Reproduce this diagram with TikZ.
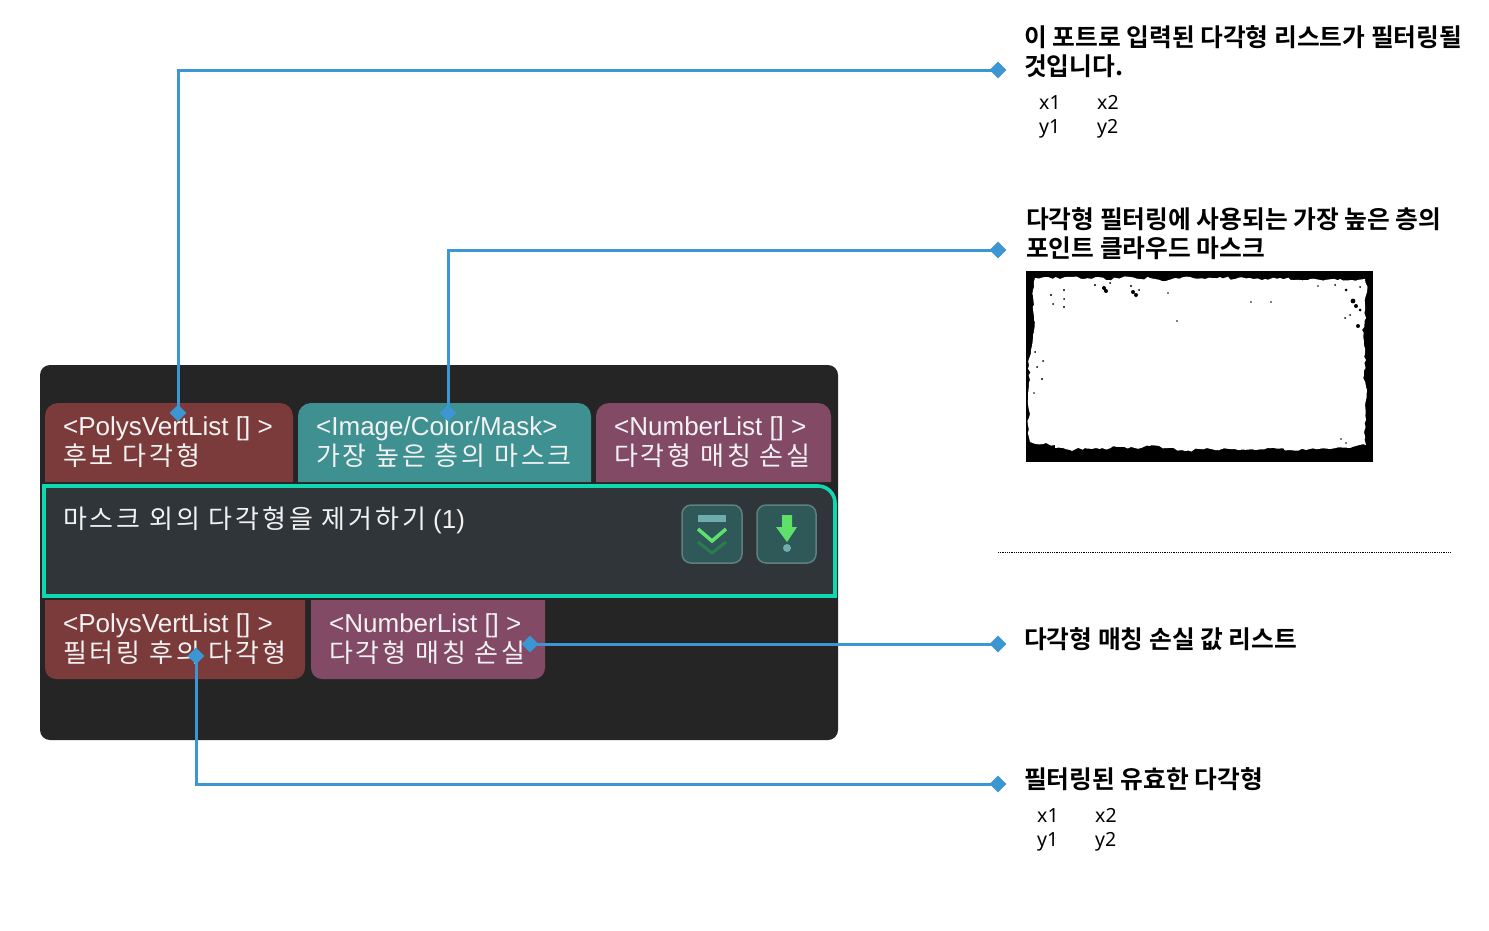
\documentclass[tikz,border=0pt]{standalone}
\usepackage{xcolor}
\usepackage{fontspec}
\setmainfont{Liberation Sans}
\newfontfamily\krtab[LetterSpace=11]{Noto Sans CJK KR}
\newfontfamily\krbold{Noto Sans CJK KR Bold}
\newfontfamily\smallfont{Noto Sans}
\usetikzlibrary{shapes.geometric, decorations.pathmorphing}
\definecolor{panel}{HTML}{252525}
\definecolor{nodo}{HTML}{30353A}
\definecolor{borde}{HTML}{10D8B0}
\definecolor{rojo}{HTML}{7B3B3B}
\definecolor{verdeazul}{HTML}{3F9090}
\definecolor{morado}{HTML}{834A66}
\definecolor{enlace}{HTML}{3C96D2}
\definecolor{boton}{HTML}{2F5858}
\definecolor{botonborde}{HTML}{5F7F7F}
\definecolor{verde}{HTML}{5FE06A}
\definecolor{verdeoscuro}{HTML}{2F7A50}
\tikzset{
  tablabel/.style={anchor=north west, inner sep=0pt, align=left, text=white!90!gray, font=\fontsize{26}{30}\selectfont},
  heading/.style={anchor=north west, inner sep=0pt, align=left, text=black, font=\fontsize{24.75}{29}\selectfont\krbold},
  coordlabel/.style={anchor=base west, inner sep=0pt, text=black, font=\fontsize{19.5}{22}\selectfont\smallfont},
  marker/.style={diamond, fill=enlace, inner sep=0pt, minimum width=17pt, minimum height=17pt},
  enlaceline/.style={draw=enlace, line width=3pt},
  botonbox/.style={draw=botonborde, fill=boton, line width=1.5pt, rounded corners=9pt}
}
\begin{document}
\begin{tikzpicture}[x=1pt, y=-1pt]
  \useasboundingbox (0,0) rectangle (1489,930);
  \fill[white] (0,0) rectangle (1489,930);
  \fill[panel, rounded corners=10pt] (40,365) rectangle (838,740);

  \fill[rojo] (45,482) [rounded corners=13pt] -- (45,403) -- (293,403) [sharp corners] -- (293,482) -- cycle;
  \fill[verdeazul] (298,482) [rounded corners=13pt] -- (298,403) -- (591,403) [sharp corners] -- (591,482) -- cycle;
  \fill[morado] (596,482) [rounded corners=13pt] -- (596,403) -- (831,403) [sharp corners] -- (831,482) -- cycle;
  \fill[rojo] (45,600) [sharp corners] -- (305,600) [rounded corners=11pt] -- (305,679) -- (45,679) [sharp corners] -- cycle;
  \fill[morado] (311,600) [sharp corners] -- (545,600) [rounded corners=11pt] -- (545,679) -- (311,679) [sharp corners] -- cycle;

  \draw[draw=borde, fill=nodo, line width=3.6pt] (44,596) -- (44,486) -- (818,486) to[out=0, in=90] (835,503) -- (835,596) -- cycle;

  \node[tablabel] (entradaA) at (63,416) {<PolysVertList [] >\\{\krtab 후보 다각형}};
  \node[tablabel] (entradaB) at (316,416) {<Image/Color/Mask>\\{\krtab 가장 높은 층의 마스크}};
  \node[tablabel] (entradaC) at (614,416) {<NumberList [] >\\{\krtab 다각형 매칭 손실}};
  \node[tablabel] (salidaA) at (63,613) {<PolysVertList [] >\\{\krtab 필터링 후의 다각형}};
  \node[tablabel] (salidaB) at (329,613) {<NumberList [] >\\{\krtab 다각형 매칭 손실}};
  \node[tablabel, anchor=base west] (titulo) at (63,528) {{\krtab 마스크 외의 다각형을 제거하기} (1)};

  \draw[botonbox] (682,505) rectangle (742,563);
  \fill[draw=none, fill=verdeazul!75!white] (698,515) rectangle (726,522);
  \draw[verde, line width=3.5pt] (698,529) -- (712,541) -- (726,529);
  \draw[verdeoscuro, line width=3pt] (698,542) -- (712,553) -- (726,542);
  \draw[botonbox] (757,505) rectangle (816,563);
  \fill[verde] (782,515) -- (792,515) -- (792,527) -- (797,527) -- (787,542) -- (776,527) -- (782,527) -- cycle;
  \fill[verdeazul!75!white] (787,548) circle (4pt);

  \node[marker] (puertoA) at (178,413) {};
  \node[marker] (puertoB) at (448,413) {};
  \node[marker] (puertoC) at (530,644) {};
  \node[marker] (puertoD) at (196,656) {};
  \node[marker] (notaA) at (998,70) {};
  \node[marker] (notaB) at (998,250) {};
  \node[marker] (notaC) at (998,644) {};
  \node[marker] (notaD) at (998,784) {};
  \draw[enlaceline] (puertoA.center) |- (notaA.center);
  \draw[enlaceline] (puertoB.center) |- (notaB.center);
  \draw[enlaceline] (puertoC.center) -- (notaC.center);
  \draw[enlaceline] (puertoD.center) |- (notaD.center);

  \node[heading] (textoA) at (1024,25) {이 포트로 입력된 다각형 리스트가 필터링될\\것입니다.};
  \node[heading] (textoB) at (1026,207) {다각형 필터링에 사용되는 가장 높은 층의\\포인트 클라우드 마스크};
  \node[heading] (textoC) at (1024,627) {다각형 매칭 손실 값 리스트};
  \node[heading] (textoD) at (1024,767) {필터링된 유효한 다각형};

  \node[coordlabel] (xa) at (1039,109) {x1};
  \node[coordlabel] (xb) at (1097,109) {x2};
  \node[coordlabel] (ya) at (1039,133) {y1};
  \node[coordlabel] (yb) at (1097,133) {y2};
  \node[coordlabel] (xc) at (1037,822) {x1};
  \node[coordlabel] (xd) at (1095,822) {x2};
  \node[coordlabel] (yc) at (1037,846) {y1};
  \node[coordlabel] (yd) at (1095,846) {y2};

  \pgfmathsetseed{42}
  \fill[black] (1026,271) rectangle (1373,462);
  \fill[white, decorate, decoration={random steps, segment length=4pt, amplitude=1.4pt}] (1035,278) -- (1048,277) -- (1060,279) -- (1072,277) -- (1084,279) -- (1096,277) -- (1106,280) -- (1116,278)
    -- (1130,277) -- (1140,279) -- (1150,278) -- (1162,281) -- (1175,278) -- (1190,277) -- (1205,279) -- (1220,277)
    -- (1235,279) -- (1250,278) -- (1265,279) -- (1280,278) -- (1295,280) -- (1310,279) -- (1325,280) -- (1340,279)
    -- (1352,280) -- (1365,279) -- (1367,292) -- (1365,305) -- (1366,318) -- (1362,330) -- (1364,345)
    -- (1366,360) -- (1364,375) -- (1367,390) -- (1365,405) -- (1366,420) -- (1364,432) -- (1366,445) -- (1350,448)
    -- (1330,449) -- (1310,449) -- (1290,450) -- (1272,448) -- (1255,450) -- (1235,449) -- (1215,450) -- (1200,449)
    -- (1185,451) -- (1168,448) -- (1150,446) -- (1135,448) -- (1118,447) -- (1100,449) -- (1085,448) -- (1070,450)
    -- (1055,448) -- (1055,445) -- (1043,444) -- (1030,442) -- (1028,425) -- (1029,410) -- (1028,395) -- (1030,380)
    -- (1029,365) -- (1031,350) -- (1033,335) -- (1034,320) -- (1034,305) -- (1033,290) -- cycle;
  \fill[black] (1104,288) circle (2pt) (1106,291) circle (2pt) (1133,292) circle (2pt) (1136,295) circle (2pt)
    (1095,285) circle (1.2pt) (1110,283) circle (1pt) (1131,286) circle (1.2pt) (1139,290) circle (1pt)
    (1064,290) circle (1.2pt) (1051,295) circle (1.2pt) (1064,299) circle (1pt) (1053,304) circle (1pt) (1064,307) circle (1.2pt)
    (1177,321) circle (0.8pt) (1251,302) circle (0.8pt) (1271,302) circle (0.8pt) (1168,293) circle (0.8pt)
    (1353,301) circle (2.4pt) (1356,306) circle (2pt) (1360,310) circle (1.5pt) (1346,290) circle (1.5pt) (1358,326) circle (2pt)
    (1345,318) circle (1pt) (1350,315) circle (1pt) (1335,285) circle (1pt) (1318,286) circle (0.8pt) (1360,287) circle (1pt)
    (1035,352) circle (1pt) (1043,361) circle (1pt) (1037,367) circle (1pt)
    (1042,379) circle (1.2pt) (1034,393) circle (0.8pt) (1341,439) circle (0.8pt) (1346,443) circle (0.8pt);

  \draw[black, densely dotted, line width=0.8pt] (998,552) -- (1450,552);
\end{tikzpicture}
\end{document}
